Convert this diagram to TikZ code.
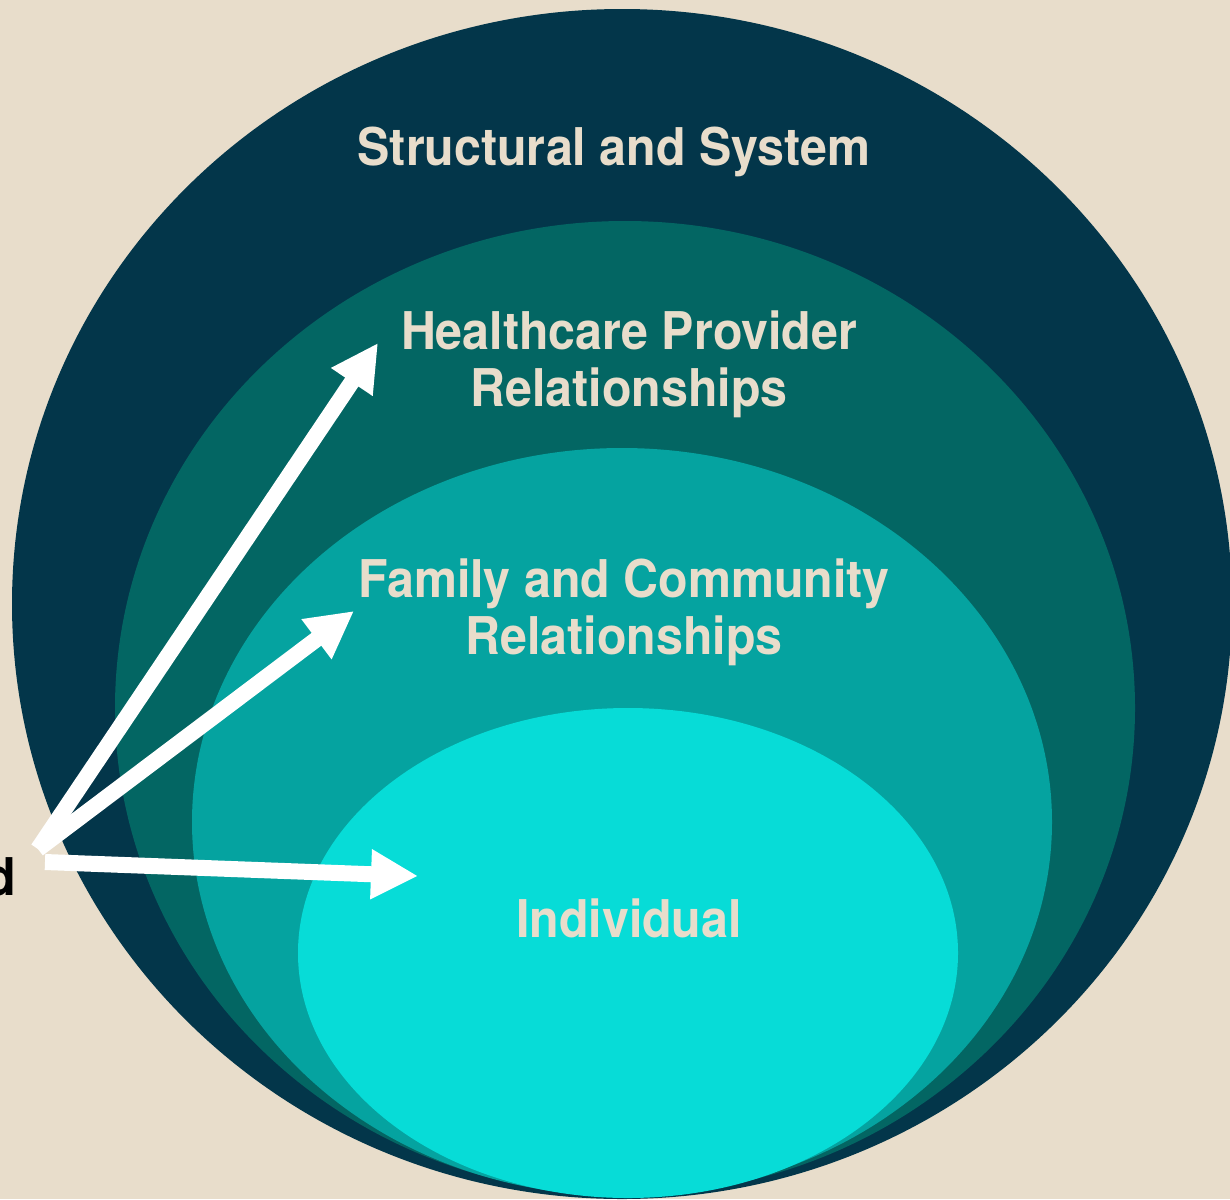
\documentclass[tikz,border=0pt]{standalone}
\usepackage{fontspec}
\newfontfamily\labelfont[FakeStretch=0.93]{TeX Gyre Heros}
\usetikzlibrary{arrows.meta}
\definecolor{sand}{HTML}{E8DDCB}
\definecolor{navy}{HTML}{03364A}
\definecolor{deepteal}{HTML}{036663}
\definecolor{teal}{HTML}{05A3A0}
\definecolor{aqua}{HTML}{07DCD7}
\tikzset{
  x=0.5pt, y=-0.5pt,
  >={Triangle[length=23.5pt, width=23.5pt]},
  layer/.style={text=sand, inner sep=0pt, align=center,
    font=\labelfont\bfseries\fontsize{26}{28.5}\selectfont},
  pointer/.style={->, draw=white, line width=8pt},
}

\begin{document}
\begin{tikzpicture}
      \fill[sand] (0,0) rectangle (1230,1199);
      \useasboundingbox (0,0) rectangle (1230,1199);

      % nested levels, outermost first
      \fill[navy]     (622,604) ellipse [x radius=305pt, y radius=297.5pt];
      \fill[deepteal] (625,708) ellipse [x radius=255pt, y radius=243.5pt];
      \fill[teal]     (622,822) ellipse [x radius=215pt, y radius=187pt];
      \fill[aqua]     (628,953) ellipse [x radius=165pt, y radius=122.5pt];

      \node[layer,anchor=base]  (sys)  at (614,165) {Structural and System};
      \node[layer,anchor=north] (prov) at (629,310) {Healthcare Provider\\Relationships};
      \node[layer,anchor=north] (fam)  at (624,558) {Family and Community\\Relationships};
      \node[layer,anchor=base]  (ind)  at (629,937) {Individual};
      \node[anchor=base east, inner sep=0pt, text=black,
            font=\labelfont\bfseries\fontsize{26}{28.5}\selectfont] (cut) at (16,895) {d};

      \coordinate (hub)     at (38,849);
      \coordinate (hubl)    at (45,862);
      \coordinate (toprov)  at (378,343);
      \coordinate (tofam)   at (354,611);
      \coordinate (toind)   at (418,876);

      \draw[pointer] (hub)  -- (toprov);
      \draw[pointer] (hub)  -- (tofam);
      \draw[pointer] (hubl) -- (toind);
\end{tikzpicture}
\end{document}
